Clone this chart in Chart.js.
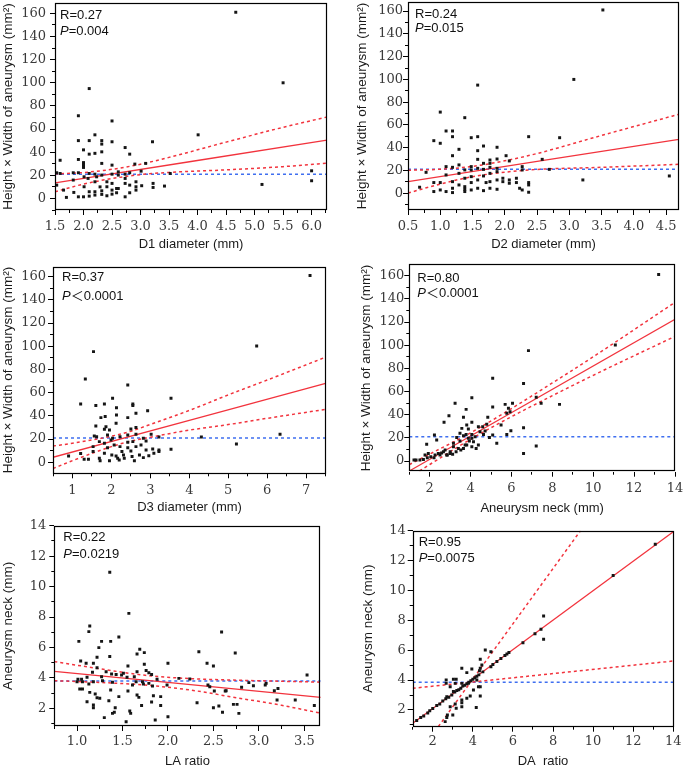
<!DOCTYPE html>
<html>
<head>
<meta charset="utf-8">
<script src="https://cdn.jsdelivr.net/npm/chart.js@4/dist/chart.umd.min.js"></script>
<style>
  html, body { margin: 0; padding: 0; background: #fff; overflow: hidden; }
  body { width: 685px; height: 767px; position: relative; }
  canvas { position: absolute; }
</style>
</head>
<body>
<canvas id="g1"></canvas>
<canvas id="g2"></canvas>
<canvas id="g3"></canvas>
<canvas id="g4"></canvas>
<canvas id="g5"></canvas>
<canvas id="g6"></canvas>
<script>
// ---- datos ----
const d1X = [4.67,2.10,5.50,1.91,2.50,4.01,2.20,1.91,2.10,2.32, 2.32,2.50,3.21,2.73,2.00,2.10,2.20,2.32,2.81,1.59,
  1.91,2.00,2.00,2.00,2.32,2.50,2.90,3.09,1.53,1.59, 1.82,1.91,2.10,2.20,2.32,2.23,2.01,2.50,2.61,2.61,
  2.73,2.81,3.01,3.52,1.53,1.65,1.70,1.82,1.83,1.91, 2.00,2.01,2.10,2.10,2.20,2.20,2.20,2.32,2.32,2.41,
  2.41,2.50,2.50,2.50,2.58,2.58,2.73,2.73,2.73,2.81, 2.81,2.92,2.92,2.92,3.02,3.22,3.22,3.42,5.13,6.00,
  6.00,2.29,2.41,2.61,2.08];
const d1Y = [161,95,100,71.5,67,55,55,50,50,50, 47,49,49,44,42,38.3,39,40.3,38.3,33,
  33.7,31,28.8,26.8,30.3,28.8,29.7,30.3,22.2,21.6, 22.2,22.2,21.6,21,20.2,18.7,18.7,21,23,20.2,
  21,22.2,23.6,21.6,11.5,7.2,0.9,15.9,5.2,1.4, 1.4,10.1,5.8,2,14.4,5.8,2.9,6.6,3.5,10.1,
  2.3,13,7.2,3.7,8.6,4.9,17.3,1.4,13,11.5, 4.9,14.4,10.1,7.2,11,13,9.5,10.7,12.1,23.9,
  15.3,10,14.4,8.6,17.3];
const reg1X = [1.5, 6.27];
const reg1Y = [13.5, 50.4];
const ic1X = [1.5, 2.0, 2.5, 3.0, 3.5, 4.5, 5.5, 6.27];
const ic1Sup = [21.2, 22.4, 25.2, 29.6, 35.5, 48.7, 61.5, 70.4];
const ic1Inf = [5.8, 12.4, 17.2, 20.6, 22.5, 24.7, 27.5, 30.4];
const media1X = [1.5, 6.27];
const media1Y = [21, 21];

const d2X = [3.52,1.58,3.07,1.0,1.38,0.90,1.0,1.09,1.19,1.19, 1.48,1.58,2.37,2.85,1.67,1.58,1.29,1.88,1.19,2.02,
  2.07,1.58,1.77,1.88,2.58,0.78,1.09,1.09,1.19,1.29, 1.38,1.48,1.48,1.58,1.67,1.67,1.77,1.77,1.88,1.88,
  1.77,2.27,2.27,2.69,0.68,0.90,0.90,1.0,1.0,1.09, 1.19,1.19,1.19,1.29,1.29,1.38,1.38,1.38,1.38,1.48,
  1.48,1.48,1.58,1.58,1.67,1.67,1.71,1.77,1.77,1.88, 1.88,1.97,1.97,2.07,2.07,2.18,2.18,2.23,2.27,2.37,
  2.37,2.37,3.21,4.55];
const d2Y = [161,95,100,71.3,66.4,46.2,43.9,54.7,54.7,49.7, 48.8,49.7,49.7,48.8,41.5,37.4,38.6,40.4,33,33,
  28.4,29.8,29.2,30.1,29.8,18.4,23.4,16.1,22.8,24.9, 20.5,23.4,20.5,21.9,26.3,21,26.3,22.8,21.9,19,
  17.5,23.4,20.5,21,5.3,9.4,1.5,9.4,2.9,1.5, 10.2,4.4,0.6,17.5,7.3,13.2,5.8,1.5,3.5,14.6,
  9.4,2.9,11.7,4.4,2.3,15.2,9.4,10.2,4.4,11.7, 3.5,13.2,10.2,11.7,8.8,13.2,9.4,4.4,2.9,9.4,
  7.3,0.9,11.7,15.2];
const reg2X = [0.5, 4.7];
const reg2Y = [10.2, 47.4];
const ic2X = [0.5, 1.0, 1.5, 2.0, 2.5, 3.5, 4.7];
const ic2Sup = [20.2, 21.1, 23.6, 28.5, 34.9, 50.8, 69.4];
const ic2Inf = [0.2, 8.1, 14.6, 18.5, 20.9, 22.8, 25.4];
const media2X = [0.5, 4.7];
const media2Y = [21, 21];

const d3X = [7.10,1.54,5.73,1.33,2.42,3.53,2.03,1.21,1.60,1.82, 2.55,2.55,2.93,2.13,1.73,1.84,2.13,2.42,2.63,1.60,
  2.12,1.86,1.82,1.95,2.50,2.63,1.56,1.62,1.90,2.03, 2.22,2.42,2.63,2.82,3.02,3.22,4.31,6.33,5.21,3.53,
  0.90,1.21,1.30,1.41,1.53,1.53,1.69,1.71,1.82,1.82, 1.90,1.95,2.01,2.07,2.12,2.16,2.20,2.27,2.31,2.33,
  2.42,2.42,2.50,2.53,2.59,2.63,2.72,2.76,2.82,2.89, 2.96,3.06,3.09,3.22,3.22,2.22,1.99,1.69,2.55,2.89];
const d3Y = [161,95.4,100.3,71.8,66.7,55.2,55.2,50.3,48.9,50.3, 50.3,48.9,44.5,47.1,38.5,39.4,40.8,38.5,42.2,31.3,
  33.6,30.7,28.4,27.9,28.7,29.9,22.7,22.1,23.6,20.7, 22.1,23.6,24.1,20.7,24.1,21.8,21.8,24.1,15.8,11.2,
  5.5,7.5,2.6,2.6,13.5,9.2,3.4,1.4,16.4,7.8, 12.6,1.4,6.3,14.9,5.5,3.4,2,9.2,6.3,3.4,
  12.6,17.2,9.8,4.9,1.4,13.5,6.3,14.9,4,10.6, 5.7,11.5,7.8,9.2,10.6,13.5,19.3,17.8,17.8,18.4];
const reg3X = [0.5, 7.5];
const reg3Y = [4.3, 68.1];
const ic3X = [0.5, 1.0, 2.0, 2.5, 3.0, 4.0, 5.0, 6.0, 7.5];
const ic3Sup = [14.0, 16.4, 22.5, 26.8, 32.6, 44.7, 58.1, 70.9, 90.6];
const ic3Inf = [-5.4, 1.4, 13.5, 18.2, 21.6, 27.7, 32.5, 37.9, 45.6];
const media3X = [0.5, 7.5];
const media3Y = [21, 21];

const d4X = [13.2,6.83,11.08,5.08,6.59,4.06,7.21,7.45,8.35,6.05, 5.69,3.24,3.78,5.08,2.94,2.70,3.65,4.06,4.84,5.77,
  5.93,5.49,5.97,6.59,5.77,5.08,4.92,5.28,7.21,6.59, 2.23,2.34,1.85,3.32,3.57,3.89,3.78,4.06,4.06,4.22,
  4.38,4.59,4.46,4.63,4.71,3.48,3.65,3.89,4.14,4.27, 4.06,4.38,3.81,3.65,3.40,3.29,3.16,3.0,2.86,2.75,
  2.58,2.42,2.26,2.21,2.05,1.88,1.69,1.52,1.33,1.23, 1.77,1.93,2.50,2.67,2.83,3.12,3.52,3.73,3.94,3.48,
  3.16,3.0,4.79,5.85,3.81];
const d4Y = [161,95.3,100.1,71.4,67,54.7,55,49.8,48.9,49.8, 48.9,49.8,44.6,46.6,39.1,33.4,37.7,33.4,37.7,41.2,
  42.6,31.1,26.2,28.8,23,22.4,20.4,15.3,12.9,6.6, 22.4,18.1,14.4,20.4,28.2,27.6,23,23,19.6,21,
  29.6,29.6,25.3,23,25.9,23.9,21.9,19.6,16.7,10.9, 12.4,13.8,13.8,10.9,10.9,8.1,12.4,8.1,5.2,9.5,
  6.9,6.6,5.2,2.9,3.7,2.9,1.4,0.9,0.9,0.9, 5.2,6.6,5.2,8.1,5.2,5.8,9.5,13.8,17.3,17.3,
  15.3,6.6,31.7,45.5,31.1];
const reg4X = [1, 14];
const reg4Y = [-8.6, 122.3];
const ic4X = [1, 2, 4, 6, 8, 10, 14];
const ic4Sup = [-3.1, 6.0, 24.4, 45.3, 67.4, 90.0, 137];
const ic4Inf = [-14.1, -3.0, 18.8, 38.3, 56.4, 74.0, 107.6];
const media4X = [1, 14];
const media4Y = [21, 21];

const d5X = [1.36,1.57,1.14,1.13,1.02,1.37,1.27,1.24,1.46,2.59, 2.34,2.74,1.69,1.66,1.74,1.04,1.10,1.18,1.36,1.22,
  1.56,2.00,2.43,2.50,1.74,1.17,1.22,1.32,1.76,1.79, 1.82,1.51,1.66,1.63,1.38,1.43,1.55,1.01,1.05,1.06,
  1.00,1.11,1.13,1.18,1.27,1.28,1.39,1.49,1.61,1.65, 1.72,1.73,1.79,1.83,1.88,1.99,2.12,2.24,2.44,2.46,
  2.51,2.64,2.81,2.89,2.94,3.07,3.08,3.17,3.21,3.53, 1.03,1.06,1.14,1.20,1.22,1.37,1.56,1.68,1.66,1.92,
  1.84,1.92,1.82,1.11,1.18,1.18,1.25,1.35,1.42,1.39, 1.41,1.46,1.58,1.59,1.71,1.30,1.54,1.86,2.00,2.32,
  2.50,2.56,2.60,2.63,2.72,2.76,2.78,3.20,3.40,3.61];
const d5Y = [10.94,8.24,7.41,7.04,6.40,6.40,6.40,5.99,6.69,7.02, 5.72,5.64,5.88,5.57,5.66,5.11,4.96,4.96,5.40,5.35,
  4.78,4.96,4.96,4.78,4.89,4.37,4.67,4.41,4.48,4.34, 4.23,4.30,4.41,4.08,4.26,4.23,4.04,3.91,3.91,3.75,
  3.75,4.04,3.60,3.75,4.08,3.82,3.71,4.19,3.53,3.75, 3.75,3.60,3.64,3.47,3.91,3.53,3.97,3.93,3.53,3.42,
  3.14,3.16,3.38,3.69,3.49,3.53,3.64,3.16,3.31,4.19, 3.27,3.27,3.05,2.94,2.70,3.20,3.14,2.72,2.88,2.77,
  2.83,2.18,2.42,2.44,2.22,2.04,2.66,2.50,2.04,1.67, 1.74,2.77,1.82,1.67,2.18,1.39,1.12,1.23,1.45,2.37,
  2.04,2.15,1.74,3.14,2.26,2.26,1.67,2.55,2.55,2.18];
const reg5X = [0.75, 3.68];
const reg5Y = [4.43, 2.72];
const ic5X = [0.75, 1.25, 1.75, 2.25, 2.75, 3.25, 3.68];
const ic5Sup = [5.07, 4.6, 4.17, 3.95, 3.85, 3.78, 3.72];
const ic5Inf = [3.82, 3.7, 3.53, 3.2, 2.7, 2.2, 1.68];
const media5X = [0.75, 3.68];
const media5Y = [3.8, 3.8];

const d6X = [1.2,1.4,1.55,1.75,1.85,2.0,2.2,2.35,2.5,2.65, 2.8,2.95,3.1,3.2,3.3,3.4,3.5,3.6,3.7,3.8,
  3.9,4.0,4.1,4.2,4.3,4.5,4.9,5.0,5.2,5.4, 5.6,5.7,5.8,6.5,7.1,7.4,11.0,13.1,
  7.53,7.53,4.62,4.90,4.37,2.67,3.03,3.17,3.45,3.95, 4.37,4.45,3.70,4.33,2.67,2.87,3.12,3.45,3.78,4.20,
  4.28,4.37,3.03,3.45,3.45,3.45,3.70,3.87,4.37,3.12, 3.17,2.87,3.00,2.73,2.70,2.62,4.17,2.70,4.03];
const d6Y = [1.3,1.5,1.6,1.8,1.95,2.1,2.3,2.4,2.6,2.75, 2.85,3.0,3.2,3.3,3.35,3.45,3.6,3.65,3.75,3.85,
  3.95,4.05,4.15,4.25,4.35,4.55,4.9,5.05,5.25,5.45, 5.65,5.75,5.85,6.5,7.1,7.4,11.0,13.1,
  8.29,6.73,6.02,5.90,5.39,4.01,4.05,4.05,4.79,4.74, 4.79,5.01,4.50,4.63,3.78,3.56,3.78,3.78,3.78,4.01,
  3.56,3.56,3.23,2.67,2.49,2.22,2.78,2.94,2.94,2.40, 2.11,2.22,1.67,1.67,1.49,1.22,2.16,2.89,3.34];
const reg6X = [1, 14];
const reg6Y = [1.11, 13.93];
const ic6SupX = [2.28, 9.37];
const ic6SupY = [0.89, 14];
const ic6InfX = [1, 14];
const ic6InfY = [3.45, 5.28];
const media6X = [1, 14];
const media6Y = [3.85, 3.85];

// ---- estilo ----
const ROJO = '#f2333d';
const AZUL = '#3f6ff0';
const SANS = '"Liberation Sans", Arial, sans-serif';
Chart.defaults.font.family = '"DejaVu Serif", serif';
Chart.defaults.font.size = 13;
Chart.defaults.color = '#3a3a3a';

function puntos(xs, ys) {
  return xs.map((x, i) => ({ x: x, y: ys[i] }));
}

// solo etiqueta los valores que caen en un multiplo del paso mayor
function etiqueta(v, mayor, dec) {
  const k = v / mayor;
  if (Math.abs(k - Math.round(k)) > 1e-6) return '';
  return dec ? v.toFixed(dec) : String(Math.round(v));
}

const marco = {
  id: 'marco',
  afterDatasetsDraw(chart) {
    const { ctx, chartArea: a } = chart;
    ctx.save();
    ctx.strokeStyle = '#000';
    ctx.lineWidth = 1.2;
    ctx.strokeRect(Math.round(a.left) + 0.5, Math.round(a.top) + 0.5,
      Math.round(a.right - a.left) - 1, Math.round(a.bottom - a.top) - 1);
    ctx.restore();
  }
};

const anotacion = {
  id: 'anotacion',
  afterDraw(chart, args, o) {
    const { ctx, chartArea: a } = chart;
    const x = a.left + o.dx;
    ctx.save();
    ctx.fillStyle = '#111';
    ctx.textBaseline = 'middle';
    ctx.textAlign = 'left';
    ctx.font = '13px ' + SANS;
    ctx.fillText(o.r, x, a.top + o.dyR);
    ctx.font = 'italic 13px ' + SANS;
    ctx.fillText('P', x, a.top + o.dyP);
    const w = ctx.measureText('P').width;
    ctx.font = '13px "Liberation Sans", "Noto Sans CJK SC", sans-serif';
    ctx.fillText(o.p, x + w, a.top + o.dyP);
    ctx.restore();
  }
};

function linea(xs, ys, color, discont, ancho) {
  return {
    data: puntos(xs, ys),
    showLine: true,
    pointRadius: 0,
    borderColor: color,
    borderWidth: ancho,
    borderDash: discont ? [3, 3] : [],
    cubicInterpolationMode: 'monotone',
    fill: false
  };
}

const sinPadding = s => { s.paddingLeft = 0; s.paddingRight = 0; s.paddingTop = 0; s.paddingBottom = 0; };

// eje sin etiquetas, solo marcas menores cortas
function ejeMenor(pos, rango, paso) {
  return {
    type: 'linear', position: pos, weight: -1, min: rango.min, max: rango.max,
    ticks: { display: false, stepSize: paso, autoSkip: false, includeBounds: false },
    grid: { drawOnChartArea: false, drawTicks: true, tickLength: 3, tickColor: '#000' },
    border: { display: false },
    afterFit: s => {
      if (pos === 'bottom') s.height = 0; else s.width = 0;
      sinPadding(s);
    }
  };
}

function crearPanel(p) {
  const [cx, cy, cw, ch] = p.caja;
  const [L, T, R, B] = p.area;
  const lienzo = document.getElementById(p.id);
  lienzo.width = cw;
  lienzo.height = ch;
  lienzo.style.left = cx + 'px';
  lienzo.style.top = cy + 'px';

  new Chart(lienzo, {
    type: 'scatter',
    data: {
      datasets: [
        { data: puntos(p.puntos[0], p.puntos[1]), pointStyle: 'rect', pointRadius: 2.1,
          pointBorderWidth: 0, backgroundColor: '#151515' },
        linea(p.reg[0], p.reg[1], ROJO, false, 1.3),
        linea(p.sup[0], p.sup[1], ROJO, true, 1.5),
        linea(p.inf[0], p.inf[1], ROJO, true, 1.5),
        linea(p.media[0], p.media[1], AZUL, true, 1.5)
      ]
    },
    options: {
      responsive: false,
      animation: false,
      events: [],
      layout: { autoPadding: false, padding: { top: T - cy, right: cx + cw - R, left: 0, bottom: 0 } },
      plugins: { legend: { display: false }, tooltip: { enabled: false }, anotacion: p.texto },
      scales: {
        x: {
          type: 'linear', position: 'bottom', min: p.x.min, max: p.x.max,
          ticks: { stepSize: p.x.mayor, autoSkip: false, maxRotation: 0, includeBounds: false,
            padding: p.x.pad, callback: v => etiqueta(v, p.x.mayor, p.x.dec) },
          grid: { drawOnChartArea: false, drawTicks: true, tickLength: 5, tickColor: '#000' },
          border: { display: false },
          title: { display: true, text: p.x.titulo, color: '#1a1a1a',
            font: { family: SANS, size: 13 }, padding: { top: 0, bottom: p.x.tpad } },
          afterFit: s => { s.height = cy + ch - B; sinPadding(s); }
        },
        y: {
          type: 'linear', position: 'left', min: p.y.min, max: p.y.max,
          ticks: { stepSize: p.y.mayor, autoSkip: false, includeBounds: false,
            padding: p.y.pad, callback: v => etiqueta(v, p.y.mayor, 0) },
          grid: { drawOnChartArea: false, drawTicks: true, tickLength: 5, tickColor: '#000' },
          border: { display: false },
          title: { display: true, text: p.y.titulo, color: '#1a1a1a',
            font: { family: SANS, size: 13.5 }, padding: { top: p.y.tpad, bottom: 0 } },
          afterFit: s => { s.width = L - cx; sinPadding(s); }
        },
        xm: ejeMenor('bottom', p.x, p.x.paso),
        ym: ejeMenor('left', p.y, p.y.paso)
      }
    },
    plugins: [marco, anotacion]
  });
}

const TIT_AREA = 'Height × Width of aneurysm (mm²)';
const TIT_CUELLO = 'Aneurysm neck (mm)';

const paneles = [
  { id: 'g1', caja: [0, 0, 340, 252], area: [55, 3, 327, 210],
    x: { min: 1.5, max: 6.27, paso: 0.25, mayor: 0.5, dec: 1, pad: 4, titulo: 'D1 diameter (mm)', tpad: 0 },
    y: { min: -10, max: 169, paso: 10, mayor: 20, pad: 4, titulo: TIT_AREA, tpad: 0 },
    puntos: [d1X, d1Y], reg: [reg1X, reg1Y], sup: [ic1X, ic1Sup], inf: [ic1X, ic1Inf], media: [media1X, media1Y],
    texto: { r: 'R=0.27', p: '=0.004', dx: 5, dyR: 12, dyP: 28 } },
  { id: 'g2', caja: [340, 0, 345, 252], area: [408, 2, 679, 210],
    x: { min: 0.5, max: 4.7, paso: 0.25, mayor: 0.5, dec: 1, pad: 4, titulo: 'D2 diameter (mm)', tpad: 0 },
    y: { min: -14.7, max: 168, paso: 10, mayor: 20, pad: 0, titulo: TIT_AREA, tpad: 14 },
    puntos: [d2X, d2Y], reg: [reg2X, reg2Y], sup: [ic2X, ic2Sup], inf: [ic2X, ic2Inf], media: [media2X, media2Y],
    texto: { r: 'R=0.24', p: '=0.015', dx: 7, dyR: 12, dyP: 26 } },
  { id: 'g3', caja: [0, 252, 340, 264], area: [53, 266.7, 326, 473.3],
    x: { min: 0.5, max: 7.51, paso: 0.5, mayor: 1, dec: 0, pad: 5, titulo: 'D3 diameter (mm)', tpad: 1 },
    y: { min: -9.5, max: 168.6, paso: 10, mayor: 20, pad: 2, titulo: TIT_AREA, tpad: 0 },
    puntos: [d3X, d3Y], reg: [reg3X, reg3Y], sup: [ic3X, ic3Sup], inf: [ic3X, ic3Inf], media: [media3X, media3Y],
    texto: { r: 'R=0.37', p: '＜0.0001', dx: 9, dyR: 11, dyP: 30 } },
  { id: 'g4', caja: [340, 252, 345, 264], area: [409.3, 264.3, 675, 471.7],
    x: { min: 1, max: 14, paso: 1, mayor: 2, dec: 0, pad: 4.5, titulo: TIT_CUELLO, tpad: 0 },
    y: { min: -9.2, max: 169.8, paso: 10, mayor: 20, pad: 0, titulo: TIT_AREA, tpad: 18 },
    puntos: [d4X, d4Y], reg: [reg4X, reg4Y], sup: [ic4X, ic4Sup], inf: [ic4X, ic4Inf], media: [media4X, media4Y],
    texto: { r: 'R=0.80', p: '＜0.0001', dx: 8, dyR: 14, dyP: 29 } },
  { id: 'g5', caja: [0, 516, 340, 254], area: [54.3, 525.7, 320.7, 726],
    x: { min: 0.75, max: 3.68, paso: 0.25, mayor: 0.5, dec: 1, pad: 3, titulo: 'LA ratio', tpad: 1 },
    y: { min: 0.84, max: 14, paso: 1, mayor: 2, pad: 3, titulo: TIT_CUELLO, tpad: 0 },
    puntos: [d5X, d5Y], reg: [reg5X, reg5Y], sup: [ic5X, ic5Sup], inf: [ic5X, ic5Inf], media: [media5X, media5Y],
    texto: { r: 'R=0.22', p: '=0.0219', dx: 9, dyR: 12, dyP: 29 } },
  { id: 'g6', caja: [340, 516, 345, 254], area: [412.7, 530.7, 673.3, 726.7],
    x: { min: 1, max: 14, paso: 1, mayor: 2, dec: 0, pad: 2.5, titulo: 'DA  ratio', tpad: 1 },
    y: { min: 0.88, max: 14, paso: 1, mayor: 2, pad: 2, titulo: TIT_CUELLO, tpad: 19.7 },
    puntos: [d6X, d6Y], reg: [reg6X, reg6Y], sup: [ic6SupX, ic6SupY], inf: [ic6InfX, ic6InfY], media: [media6X, media6Y],
    texto: { r: 'R=0.95', p: '=0.0075', dx: 6, dyR: 12, dyP: 28 } }
];

paneles.forEach(crearPanel);
</script>
</body>
</html>
